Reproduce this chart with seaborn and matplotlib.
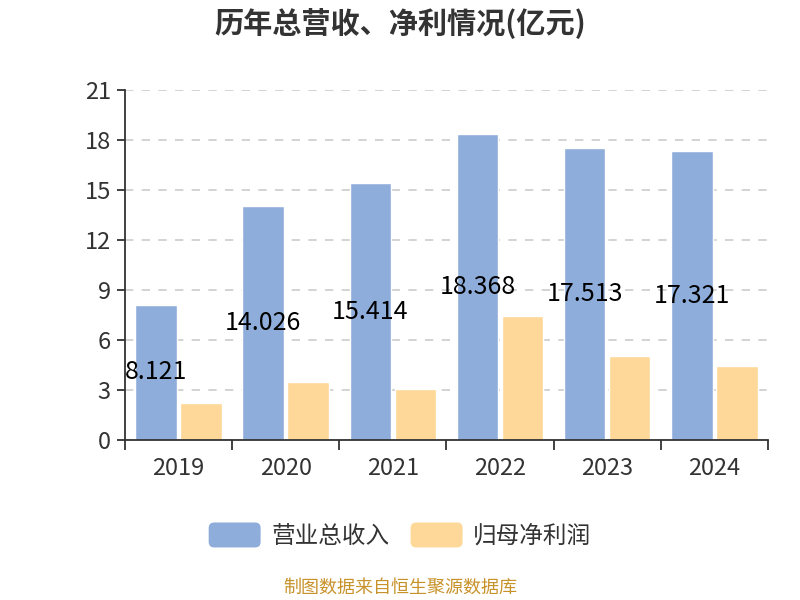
import numpy as np
import pandas as pd
import seaborn as sns
from matplotlib import pyplot as plt
from matplotlib.patches import FancyBboxPatch
from matplotlib.legend_handler import HandlerPatch
from matplotlib.patches import Patch

sns.set_theme(style="white")
plt.rcParams["font.family"] = ["Noto Sans CJK SC", "DejaVu Sans"]
plt.rcParams["axes.unicode_minus"] = False

# 数据
years = ["2019", "2020", "2021", "2022", "2023", "2024"]
revenue = [8.121, 14.026, 15.414, 18.368, 17.513, 17.321]
net_profit = [2.22, 3.48, 3.06, 7.44, 5.04, 4.44]
series_names = ["营业总收入", "归母净利润"]
colors = ["#8EADDA", "#FED898"]

df = pd.DataFrame({
    "年份": years * 2,
    "值": revenue + net_profit,
    "类型": [series_names[0]] * len(years) + [series_names[1]] * len(years),
})

fig = plt.figure(figsize=(8, 6), dpi=100)
ax = fig.add_axes([0.156, 0.2667, 0.804, 0.5833])

sns.barplot(data=df, x="年份", y="值", hue="类型", palette=colors,
            width=0.84, gap=0.08, ax=ax, legend=False, saturation=1)

# 营收数值标签（放在柱子中间）
for bar, v in zip(ax.containers[0], revenue):
    ax.text(bar.get_x() + bar.get_width() / 2, v / 2, f"{v:.3f}",
            ha="center", va="center", fontsize=18, color="black")

ax.set_ylim(0, 21)
ax.set_yticks(range(0, 22, 3))
ax.set_xlim(-0.5, 5.5)
ax.set_xlabel("")
ax.set_ylabel("")
ax.yaxis.grid(True, linestyle=(0, (5, 5)), color="#CCCCCC", linewidth=1.2)
ax.set_axisbelow(True)

for s in ["top", "right"]:
    ax.spines[s].set_visible(False)
for s in ["left", "bottom"]:
    ax.spines[s].set_color("#333333")
    ax.spines[s].set_linewidth(1.3)

ax.tick_params(axis="y", which="major", left=True, length=6, width=1.3,
               color="#333333", labelsize=17, labelcolor="#333333", pad=4)
ax.tick_params(axis="x", which="major", bottom=False, labelsize=17,
               labelcolor="#333333", pad=6)
ax.set_xticks(np.arange(-0.5, 6, 1), minor=True)
ax.tick_params(axis="x", which="minor", bottom=True, length=7, width=1.3,
               color="#333333")

fig.text(0.5, 0.962, "历年总营收、净利情况(亿元)", ha="center", va="center",
         fontsize=21, fontweight="bold", color="#333333")


class RoundHandler(HandlerPatch):
    def create_artists(self, legend, orig_handle, xdescent, ydescent,
                       width, height, fontsize, trans):
        p = FancyBboxPatch((-xdescent, -ydescent), width, height,
                           boxstyle="round,pad=0,rounding_size=4",
                           facecolor=orig_handle.get_facecolor(),
                           edgecolor="none", transform=trans)
        return [p]


handles = [Patch(facecolor=c) for c in colors]
fig.legend(handles, series_names, loc="center", bbox_to_anchor=(0.5, 0.108),
           ncol=2, frameon=False, fontsize=17, handlelength=2.2,
           handleheight=1.25, columnspacing=0.9, handletextpad=0.45,
           labelcolor="#333333",
           handler_map={Patch: RoundHandler()})

fig.text(0.5, 0.02, "制图数据来自恒生聚源数据库", ha="center", va="center",
         fontsize=13, color="#C8922A")

fig.savefig("out.png", dpi=100)
